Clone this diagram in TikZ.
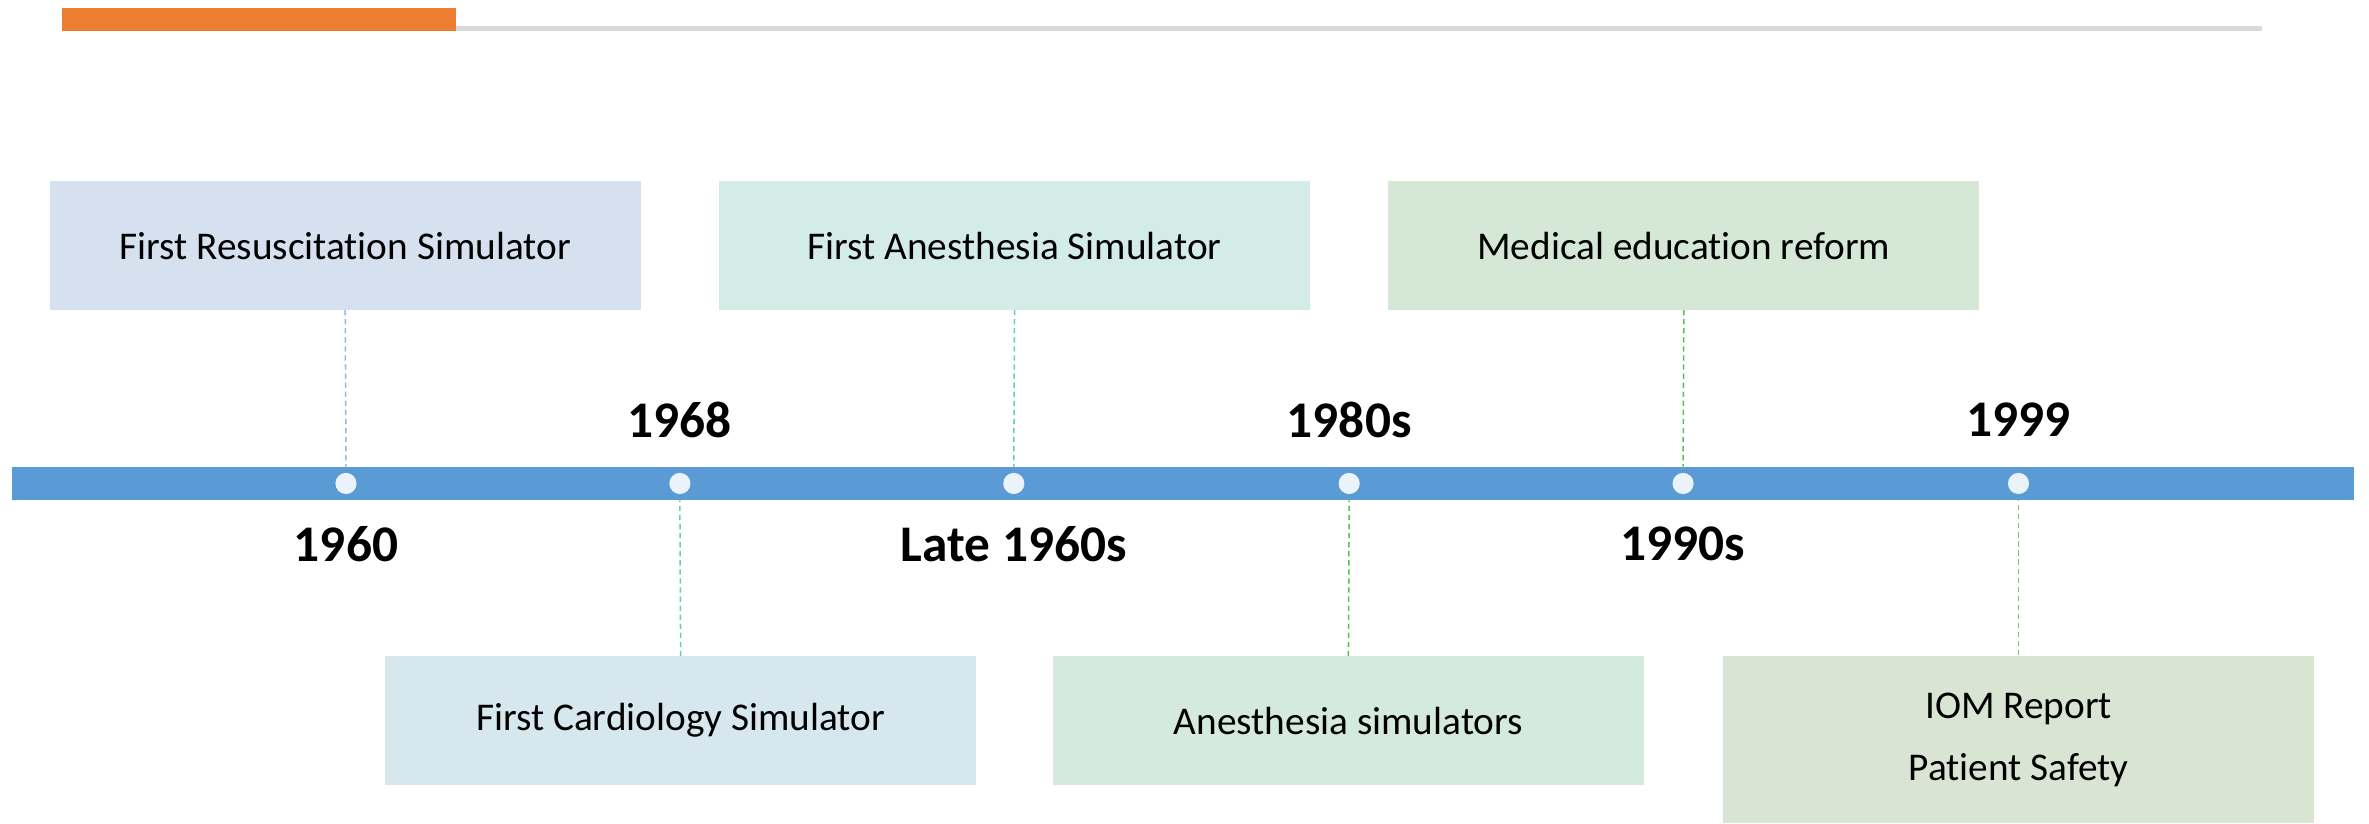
\documentclass[tikz,border=0pt]{standalone}
\usepackage{fontspec}
\setmainfont[Ligatures=NoCommon]{Carlito}
\usetikzlibrary{positioning}
\definecolor{axisblue}{HTML}{5B9BD5}
\definecolor{dotfill}{HTML}{EAF2FA}
\definecolor{accent}{HTML}{ED7D31}
\definecolor{rule}{HTML}{D9D9D9}
\definecolor{fillA}{HTML}{D6E1EF}
\definecolor{fillB}{HTML}{D4ECE8}
\definecolor{fillC}{HTML}{D5E8D5}
\definecolor{fillD}{HTML}{D6E8EE}
\definecolor{fillE}{HTML}{D4EADF}
\definecolor{fillF}{HTML}{D9E5D3}
\definecolor{lineA}{HTML}{8DBBE8}
\definecolor{lineB}{HTML}{5DD3B5}
\definecolor{lineC}{HTML}{4CC94C}
\definecolor{lineF}{HTML}{7CC55A}

\begin{document}
\begin{tikzpicture}[x=1pt,y=-1pt,
    every node/.style={inner sep=0pt,font=\fontsize{26}{41}\selectfont},
    eventbox/.style={rectangle,minimum width=391pt,minimum height=85pt,align=center},
    year/.style={font=\fontsize{34}{40}\selectfont\bfseries},
    dot/.style={circle,fill=dotfill,minimum size=14pt},
    link/.style={dash pattern=on 3.5pt off 2.5pt,line width=1pt}]
	\useasboundingbox (0,0) rectangle (1568,545);
	% header
	\fill[rule] (301,17.5) rectangle (1497,20.5);
	\fill[accent] (41,5) rectangle (302,20.5);
	% time axis
	\node[fill=axisblue,minimum width=1550pt,minimum height=22pt] (axis) at (783,320) {};
	\node[dot] (d1) at (229,320) {};
	\node[dot] (d2) at (450,320) {};
	\node[dot] (d3) at (671,320) {};
	\node[dot] (d4) at (893,320) {};
	\node[dot] (d5) at (1114,320) {};
	\node[dot] (d6) at (1336,320) {};
	\node[year] (y1) at (229,360) {1960};
	\node[year] (y2) at (450,278) {1968};
	\node[year] (y3) at (671,360) {Late 1960s};
	\node[year] (y4) at (893,278) {1980s};
	\node[year] (y5) at (1114,360) {1990s};
	\node[year] (y6) at (1336,278) {1999};
	% events
	\node[eventbox,fill=fillA] (e1) at (228.5,162.5) {First Resuscitation Simulator};
	\node[eventbox,fill=fillB] (e3) at (671.5,162.5) {First Anesthesia Simulator};
	\node[eventbox,fill=fillC] (e5) at (1114.5,162.5) {Medical education reform};
	\node[eventbox,fill=fillD] (e2) at (450.5,477) {First Cardiology Simulator};
	\node[eventbox,fill=fillE] (e4) at (892.5,477) {Anesthesia simulators};
	\node[eventbox,fill=fillF,minimum height=111pt] (e6) at (1336,489.5) {IOM Report\\Patient Safety};
	\draw[link,lineA] (e1.south) -- (d1 |- axis.north);
	\draw[link,lineB] (e3.south) -- (d3 |- axis.north);
	\draw[link,lineC] (e5.south) -- (d5 |- axis.north);
	\draw[link,lineB] (e2.north) -- (d2 |- axis.south);
	\draw[link,lineC] (e4.north) -- (d4 |- axis.south);
	\draw[link,lineF] (e6.north) -- (d6 |- axis.south);
\end{tikzpicture}
\end{document}
